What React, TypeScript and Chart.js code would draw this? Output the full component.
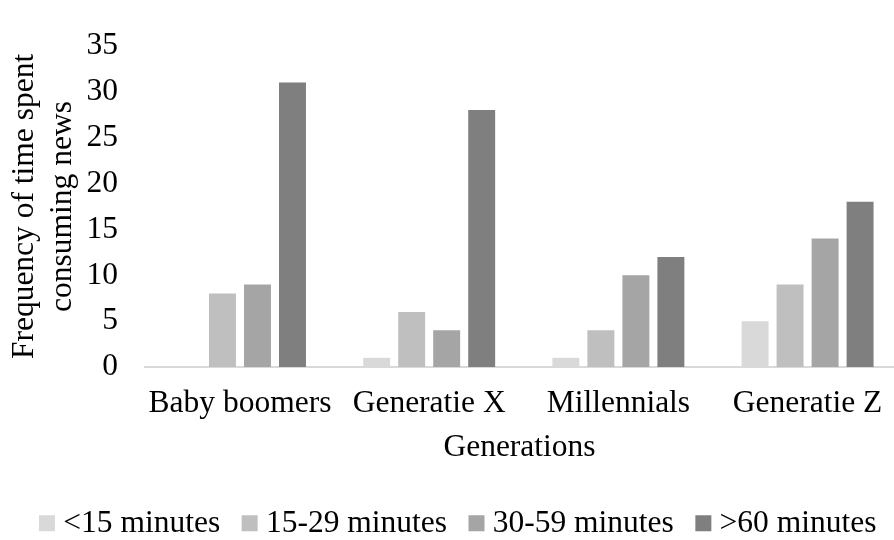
import React, { useEffect, useRef } from "react";
import { Chart, registerables } from "chart.js";

Chart.register(...registerables);

const categories = ["Baby boomers", "Generatie X", "Millennials", "Generatie Z"];
const seriesNames = ["<15 minutes", "15-29 minutes", "30-59 minutes", ">60 minutes"];
const under15 = [0, 1, 1, 5];
const from15to29 = [8, 6, 4, 9];
const from30to59 = [9, 4, 10, 14];
const over60 = [31, 28, 12, 18];
const colors = ["#d9d9d9", "#bfbfbf", "#a5a5a5", "#7f7f7f"];
const yTicks = [0, 5, 10, 15, 20, 25, 30, 35];

const FONT = "'Liberation Serif', 'Times New Roman', serif";
const FS = 31.5;

export default function App() {
  const ref = useRef<HTMLCanvasElement | null>(null);
  useEffect(() => {
    document.body.style.margin = "0";
    const ctx = ref.current!;
    const values = [under15, from15to29, from30to59, over60];
    const chart = new Chart(ctx, {
      type: "bar",
      data: {
        labels: categories,
        datasets: seriesNames.map((name, i) => ({
          label: name,
          data: values[i],
          backgroundColor: colors[i],
          borderWidth: 0,
          categoryPercentage: 0.74,
          barPercentage: 0.77,
        })),
      },
      plugins: [
        {
          id: "xrange",
          afterLayout(c: any) {
            const s = c.scales.x;
            const pitch = 189.2;
            s._startValue = -0.502;
            s._valueRange = s.width / pitch;
            if (c.legend) {
              c.legend.left += 9.5;
              c.legend.right += 9.5;
            }
          },
        },
      ],
      options: {
        animation: false,
        responsive: false,
        maintainAspectRatio: false,
        layout: { padding: { top: 24, left: 0, right: -10, bottom: -9 } },
        plugins: {
          tooltip: { enabled: false },
          legend: {
            position: "bottom",
            labels: {
              font: { family: FONT, size: FS },
              color: "#000",
              usePointStyle: true,
              pointStyle: "rect",
              boxWidth: 1,
              boxHeight: 16,
              padding: 29,
            },
          },
        },
        scales: {
          x: {
            grid: { display: false, drawTicks: false },
            border: { display: true, color: "#d9d9d9", width: 2 },
            ticks: {
              font: { family: FONT, size: FS },
              color: "#000",
              padding: 18,
              autoSkip: false,
              maxRotation: 0,
              minRotation: 0,
            },
            title: {
              display: true,
              text: "Generations",
              font: { family: FONT, size: FS },
              color: "#000",
              padding: { top: 0, bottom: 12 },
            },
            afterFit(s: any) {
              s.height = 111.5;
            },
          },
          y: {
            min: 0,
            max: 35,
            grid: { display: false, drawTicks: false },
            border: { display: false },
            afterBuildTicks(s: any) {
              s.ticks = yTicks.map((v) => ({ value: v }));
            },
            ticks: {
              font: { family: FONT, size: FS },
              color: "#000",
              padding: 27,
              autoSkip: false,
            },
            title: {
              display: true,
              text: ["Frequency of time spent", "consuming news"],
              font: { family: FONT, size: FS },
              color: "#000",
              padding: { top: 6, bottom: 0 },
            },
            afterFit(s: any) {
              s.width = 145;
            },
          },
        },
      },
    });
    return () => chart.destroy();
  }, []);
  return (
    <div style={{ position: "absolute", left: 0, top: 0, width: 894, height: 540 }}>
      <canvas ref={ref} width={894} height={540} style={{ width: 894, height: 540 }} />
    </div>
  );
}
